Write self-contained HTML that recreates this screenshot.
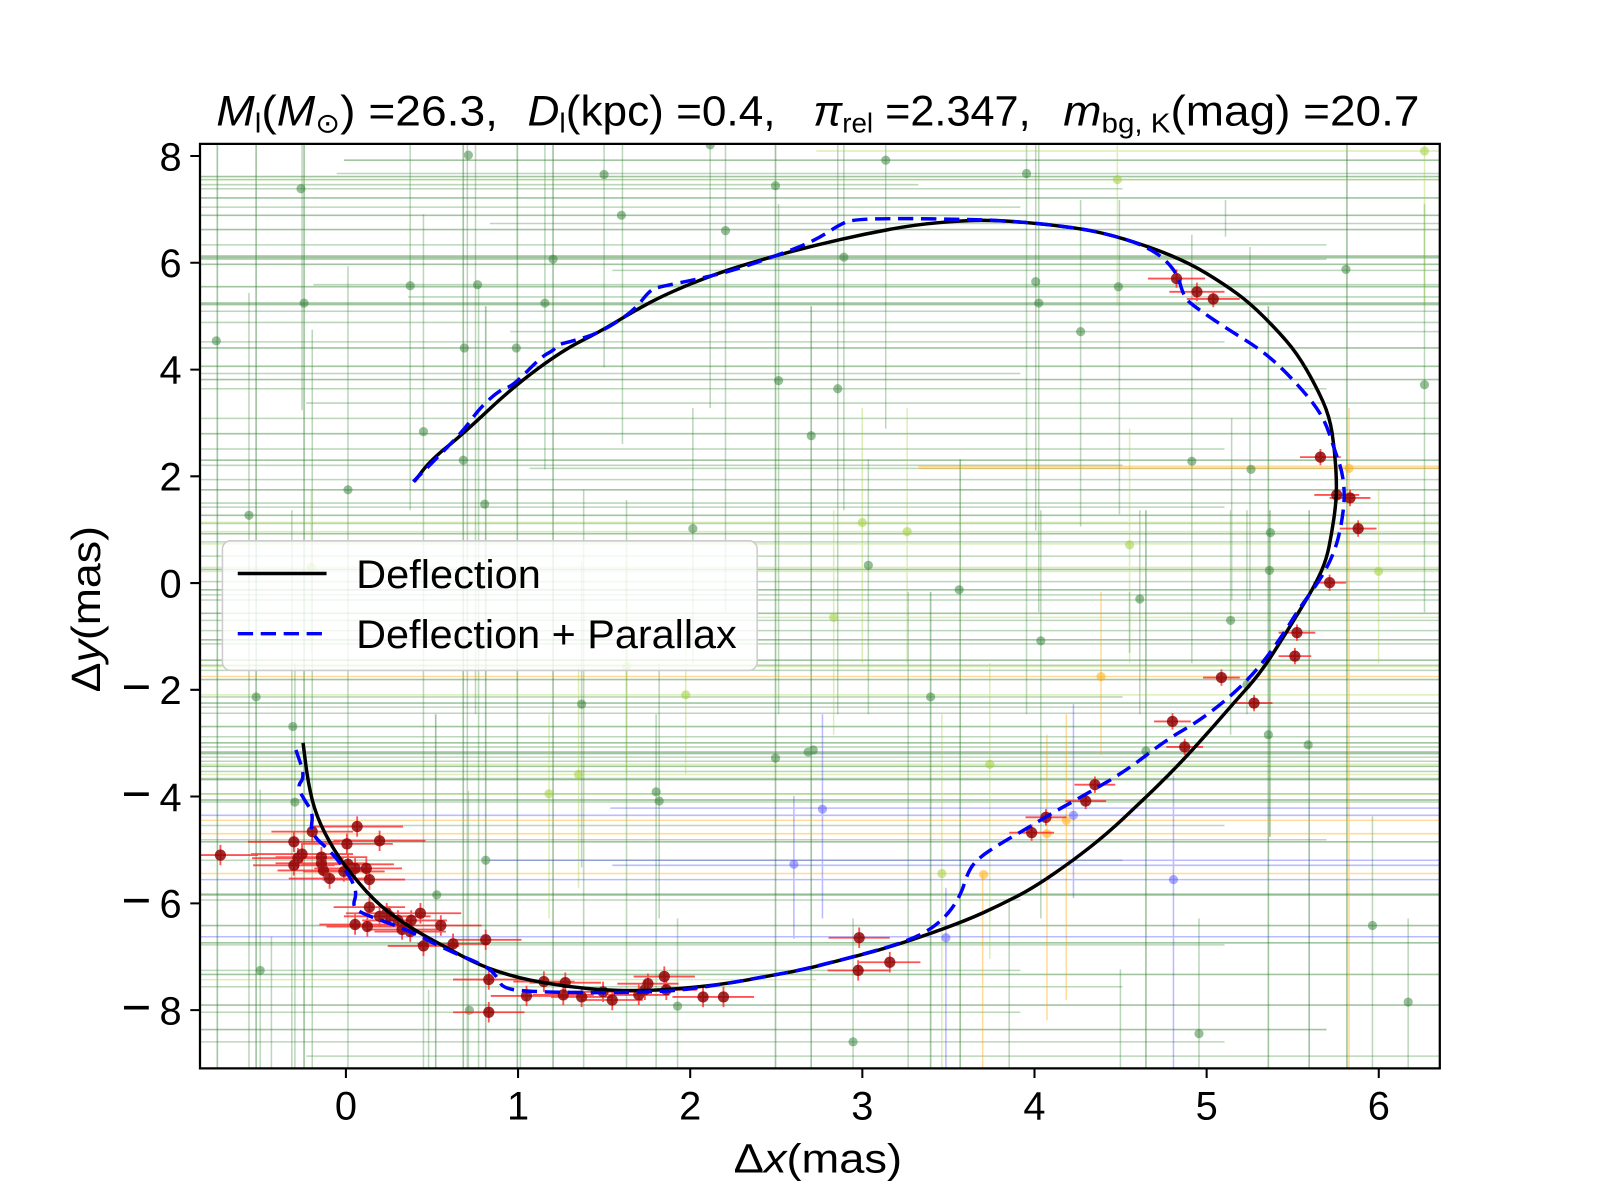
<!DOCTYPE html>
<html><head><meta charset="utf-8"><style>
html,body{margin:0;padding:0;background:#fff;}
svg{display:block;}
text{font-family:"Liberation Sans","DejaVu Sans",sans-serif;fill:#000;}
</style></head><body>
<svg width="1600" height="1200" viewBox="0 0 1568 1176" xmlns="http://www.w3.org/2000/svg">
<defs><clipPath id="c"><rect x="196" y="141" width="1215" height="906"/></clipPath></defs>
<rect x="0" y="0" width="1568" height="1176" fill="#fff"/>
<g clip-path="url(#c)" fill="none">
<!-- green horizontal A -->
<path stroke="#2f7f2f" stroke-opacity=".45" stroke-width="1.6" d="M337 157H1411M196 173H1411M196 194H1411M196 211H1411M196 225H1411M196 251H1411M196 252.5H1411M196 259H1411M196 281H1411M196 297H1411M196 298.5H1411M196 341H1411M196 359H1411M196 372H1411M196 425H1411M196 451H1411M196 480H1411M196 505H1411M196 523H1411M196 558H1411M196 578H1411M196 601H1411M196 627H1411M196 647H1411M196 666H1411M196 689H1411M196 712H1411M196 728H1411M196 737H1411M196 738.5H1411M196 751H1411M196 764H1411M196 784H1411M196 825H1411M196 877H1411M196 907H1411M196 924H1411M196 955H1411M196 985H1411M196 1009H1300"/>
<!-- green horizontal B -->
<path stroke="#2f7f2f" stroke-opacity=".32" stroke-width="1.5" d="M330 170H1411M196 176H1411M196 181H900M196 185H1100M196 203H1000M480 219H1411M196 240H1300M196 254H1300M600 265H1411M307 279H1411M400 291H1411M196 305H1411M196 316H1411M500 325H1411M196 335H1200M196 366H1000M196 381H1300M300 395H1411M196 410H1411M196 440H1200M196 456H1100M519 459H1411M196 470H1411M196 493H1411M196 497H1200M196 513H1411M196 531H1411M196 545H1411M196 570H1411M196 583H1411M196 588H1411M196 608H1411M196 618H1411M196 631H1411M196 652H1411M196 657H1411M196 683H1100M196 693H1411M196 699H1411M196 722H1411M196 732H1411M196 742H1411M196 746H1411M196 756H1411M196 763H1411M196 778H1411M196 786H1411M196 809H1200M196 823H1300M196 843H1100M196 876H1411M196 882H1000M196 926H1200M196 951H1000M196 967H1100M196 992H1000M196 1021H1200M300 1035H1411"/>
<!-- green vertical A -->
<path stroke="#2f7f2f" stroke-opacity=".45" stroke-width="1.6" d="M213 141V1047M251 141V1047M298 141V1047M454 141V1047M507 141V1047M542 141V1047M760 141V1047M795 300V1047M912 580V1047M941 450V1047M1123 500V1047M1243 300V1047M1244.5 500V820M1283 500V1047M1320 141V1047M427 700V1047M476 300V1047"/>
<!-- green vertical B -->
<path stroke="#2f7f2f" stroke-opacity=".32" stroke-width="1.5" d="M244 287V1047M286 500V1047M296 141V402M306 323V1047M341 261V1047M402 141V500M415 210V1047M458 141V1047M466 141V700M469 280V1047M534 141V460M572 480V1047M592 141V360M610 141V435M614 490V1047M255 774V916M266 918V1047M289 650V1047M459 775V1047M510 985V1047M420 970V1047M890 580V1047M989 880V1047M1020 500V900M1098 950V1047M1107 580V640M1117 500V700M1168 230V650M1175 900V1047M1206 500V720M1222 500V700M1059 196V516M1097 196V504M1201 196V232M1207 410V588M1225 242V588M696 141V400M711 141V600M763 200V700M821 141V700M827 141V500M836 900V1047M868 141V420M1006 141V700M1015 141V520M1018 141V600M851 450V700M679 400V650M643 700V1047M646 650V900M570 550V850M664 900V1047M1345 800V1047M1380 900V1047M1396 200V600M255 850V1047"/>
<!-- yellowgreen -->
<path stroke="#9acd32" stroke-opacity=".35" stroke-width="1.5" d="M196 176H1411M800 148H1411M196 560H1411M196 533H1411M196 521H1411M196 512H1411M500 605H1411M196 681H1411M196 653H1411M196 778H1411M196 759H1411M196 556H1411M196 749H1411M196 960H800M923 700V1047M970 650V940M1095 141V300M1396 141V300M1351 480V650M1107 420V650M889 400V650M845 400V650M817 500V720M672 600V760M614 550V760M538 700V900M567 650V870M305 480V640"/>
<!-- orange -->
<path stroke="#ffa500" stroke-opacity=".4" stroke-width="1.5" d="M196 663H1411M196 804H1411M196 817H1411M196 856H1411M900 459H1411M900 457H1411M963 855V1047M1026 720V1000M1045 700V980M1079 580V740M1322 400V1047"/>
<!-- blue -->
<path stroke="#3030ff" stroke-opacity=".33" stroke-width="1.5" d="M598 792H1411M196 799H1411M480 843H1411M600 848H1411M196 862H1411M196 918H1411M806 700V900M778 780V920M927 870V1047M1052 690V880M1150 760V1047"/>
<!-- markers -->
<path stroke="#2e7d32" stroke-opacity=".5" stroke-width="9" stroke-linecap="round" d="M212 334h0M295 185h0M298 297h0M402 280h0M459 152h0M468 279h0M455 341h0M506 341h0M534 297h0M542 254h0M592 171h0M609 211h0M696 142h0M711 226h0M760 182h0M763 373h0M795 427h0M821 381h0M827 252h0M868 157h0M1006 170h0M1015 276h0M1018 297h0M1059 325h0M1096 281h0M1168 452h0M1226 460h0M1245 522h0M1244 559h0M1206 608h0M1243 720h0M1282 730h0M1319 264h0M1396 377h0M1345 907h0M1380 982h0M1175 1013h0M1117 587h0M1020 628h0M940 578h0M912 683h0M851 554h0M797 735h0M792 737h0M760 743h0M679 518h0M643 776h0M646 785h0M570 690h0M475 494h0M454 451h0M415 423h0M341 480h0M244 505h0M251 683h0M287 712h0M289 786h0M255 951h0M428 877h0M476 843h0M460 990h0M664 986h0M836 1021h0M1123 736h0M1222 671h0"/>
<path stroke="#9acd32" stroke-opacity=".5" stroke-width="9" stroke-linecap="round" d="M1095 176h0M1396 148h0M1351 560h0M1107 534h0M889 521h0M845 512h0M817 605h0M672 681h0M614 653h0M538 778h0M567 759h0M305 556h0M970 749h0M923 856h0"/>
<path stroke="#ffa500" stroke-opacity=".5" stroke-width="9" stroke-linecap="round" d="M1079 663h0M1045 804h0M1026 817h0M964 857h0M1322 459h0"/>
<path stroke="#3030ff" stroke-opacity=".4" stroke-width="9" stroke-linecap="round" d="M806 793h0M778 847h0M1052 799h0M1150 862h0M927 919h0"/>
<!-- red error bars -->
<path stroke="#ff1a1a" stroke-opacity=".75" stroke-width="1.8" d="M179 838H253M216 828V848M243 825H333M288 815V835M266 815H346M306 805V825M305 810H395M350 800V820M327 824H417M372 814V834M295 827H385M340 817V837M246 837H346M296 827V847M247 841H337M292 831V851M270 840H360M315 830V850M270 846H360M315 836V856M248 848H328M288 838V858M272 853H362M317 843V863M283 861H363M323 851V871M296 847H386M341 837V857M308 851H388M348 841V861M297 854H377M337 844V864M324 851H394M359 841V861M327 862H397M362 852V872M327 889H397M362 879V899M339 895H419M379 885V905M342 898H422M382 888V908M337 898H407M372 888V908M355 902H425M390 892V912M372 895H452M412 885V905M368 902H438M403 892V912M313 906H383M348 896V916M320 908H400M360 898V918M359 911H429M394 901V921M367 913H437M402 903V923M392 907H472M432 897V917M380 927H450M415 917V937M409 925H479M444 915V935M441 921H511M476 911V931M444 960H514M479 950V970M444 992H514M479 982V1002M481 976H551M516 966V986M503 962H563M533 952V972M522 975H582M552 965V985M519 963H589M554 953V973M540 977H600M570 967V987M561 972H621M591 962V982M570 980H630M600 970V990M596 975H656M626 965V985M602 970H662M632 960V980M605 964H665M635 954V974M621 957H681M651 947V967M623 970H683M653 960V980M659 977H719M689 967V987M679 977H739M709 967V987M812 919H872M842 909V929M811 951H871M841 941V961M842 943H902M872 933V953M989 816H1033M1011 808V824M1005 801H1045M1025 793V809M1044 785H1084M1064 777V793M1053 769H1093M1073 761V777M1131 707H1167M1149 699V715M1143 732H1179M1161 724V740M1179 664H1215M1197 656V672M1211 689H1247M1229 681V697M1253 643H1285M1269 635V651M1253 620H1289M1271 612V628M1287 571H1319M1303 563V579M1274 448H1314M1294 440V456M1288 485H1332M1310 477V493M1303 488H1343M1323 480V496M1313 518H1349M1331 510V526M1125 273H1181M1153 264V282M1146 286H1200M1173 277V295M1163 293H1215M1189 285V301"/>
<path stroke="#8b0000" stroke-opacity=".82" stroke-width="11" stroke-linecap="round" d="M216 838h0M288 825h0M306 815h0M350 810h0M372 824h0M340 827h0M296 837h0M292 841h0M315 840h0M315 846h0M288 848h0M317 853h0M323 861h0M341 847h0M348 851h0M337 854h0M359 851h0M362 862h0M362 889h0M379 895h0M382 898h0M372 898h0M390 902h0M412 895h0M403 902h0M348 906h0M360 908h0M394 911h0M402 913h0M432 907h0M415 927h0M444 925h0M476 921h0M479 960h0M479 992h0M516 976h0M533 962h0M552 975h0M554 963h0M570 977h0M591 972h0M600 980h0M626 975h0M632 970h0M635 964h0M651 957h0M653 970h0M689 977h0M709 977h0M842 919h0M841 951h0M872 943h0M1011 816h0M1025 801h0M1064 785h0M1073 769h0M1149 707h0M1161 732h0M1197 664h0M1229 689h0M1269 643h0M1271 620h0M1303 571h0M1294 448h0M1310 485h0M1323 488h0M1331 518h0M1153 273h0M1173 286h0M1189 293h0"/>
<!-- curves -->
<path stroke="#000" stroke-width="3.4" stroke-linejoin="round" d="M297 728 L299.5 748 Q302 768 306 784 Q310 800 318.5 816.5 Q327 833 336.5 846 Q346 859 359 873.5 Q372 888 388.5 899.5 Q405 911 421.5 920 Q438 929 454 937.5 Q470 946 486.5 951.5 Q503 957 519.5 960.5 Q536 964 552 966 Q568 968 578 969 Q588 970 604 970.5 Q620 971 636.5 970.5 Q653 970 669.5 968.5 Q686 967 702.5 965 Q719 963 734.5 960 Q750 957 767 954 Q784 951 802 946.5 Q820 942 841 936.5 Q862 931 881 925 Q900 919 923.5 910.5 Q947 902 963.5 894.5 Q980 887 996.5 878.5 Q1013 870 1032.5 856.5 Q1052 843 1068.5 830 Q1085 817 1101 802 Q1117 787 1133.5 771 Q1150 755 1166.5 737 Q1183 719 1196 704 Q1209 689 1222 674.5 Q1235 660 1246.5 642 Q1258 624 1266 611 Q1274 598 1282 584.5 Q1290 571 1295 559.5 Q1300 548 1302.5 535.5 Q1305 523 1307 509.5 Q1309 496 1309.5 485 Q1310 474 1309 457.5 Q1308 441 1305.5 424.5 Q1303 408 1296.5 393.5 Q1290 379 1280.5 362.5 Q1271 346 1261 334.5 Q1251 323 1238 310 Q1225 297 1212 287.5 Q1199 278 1182.5 268 Q1166 258 1146.5 250 Q1127 242 1102.5 234.5 Q1078 227 1053.5 223.5 Q1029 220 1004.5 218 Q980 216 963.5 216 Q947 216 922.5 218 Q898 220 873.5 224.5 Q849 229 824.5 234.5 Q800 240 775.5 246.5 Q751 253 726.5 260.5 Q702 268 677.5 278 Q653 288 637 296.5 Q621 305 604.5 315 Q588 325 570 334 Q552 343 527.5 361 Q503 379 478.5 402 Q454 425 438 438 Q422 451 414 461.5 L406 472"/>
<path stroke="#0000ff" stroke-width="3.4" stroke-dasharray="15 7.5" stroke-linejoin="round" d="M290 735 L294.5 748 Q299 761 295 766 Q291 771 295 778 Q299 785 303 791 Q307 797 305.5 807 Q304 817 315 826.5 Q326 836 334.5 847.5 Q343 859 346.5 867 Q350 875 347.5 882 Q345 889 352 893 Q359 897 379 904 Q399 911 418.5 921 Q438 931 457.5 939 Q477 947 482 952 Q487 957 490 963 Q493 969 508 970.5 Q523 972 555.5 972.5 Q588 973 620.5 972.5 Q653 972 676.5 969 Q700 966 725 961.5 Q750 957 767 954 Q784 951 823 941 Q862 931 881 924.5 Q900 918 912 910 Q924 902 932.5 890.5 Q941 879 945 866 Q949 853 954.5 846.5 Q960 840 970 833.5 Q980 827 993 819.5 Q1006 812 1021 803 Q1036 794 1050.5 786 Q1065 778 1084.5 766.5 Q1104 755 1123.5 740 Q1143 725 1159.5 715.5 Q1176 706 1192.5 693 Q1209 680 1222 666.5 Q1235 653 1246.5 637 Q1258 621 1266 608 Q1274 595 1284 581.5 Q1294 568 1300 556.5 Q1306 545 1309.5 534 Q1313 523 1315.5 506.5 Q1318 490 1317 477 Q1316 464 1312 452.5 Q1308 441 1302.5 424.5 Q1297 408 1285.5 393.5 Q1274 379 1257.5 362.5 Q1241 346 1220 333 Q1199 320 1184.5 310 Q1170 300 1165 295.5 Q1160 291 1156.5 278 Q1153 265 1140 253.5 Q1127 242 1102.5 234.5 Q1078 227 1053.5 223.5 Q1029 220 1004.5 218 Q980 216 963.5 215.5 Q947 215 914.5 214.5 Q882 214 859 214.5 Q836 215 829.5 217.5 Q823 220 811.5 227.5 Q800 235 784 241.5 Q768 248 743.5 256.5 Q719 265 702.5 269 Q686 273 666.5 277 Q647 281 642 282.5 Q637 284 629 294.5 Q621 305 604.5 315.5 Q588 326 575 330 Q562 334 554 336 Q546 338 544.5 340.5 Q543 343 536.5 346.5 Q530 350 516.5 364 Q503 378 496.5 380 Q490 382 480 391 Q470 400 462.5 410.5 Q455 421 442.5 434 Q430 447 417.5 459.5 L405 472"/>
</g>
<!-- axes frame -->
<rect x="196" y="141" width="1215" height="906" fill="none" stroke="#000" stroke-width="2.2"/>
<!-- ticks -->
<path stroke="#000" stroke-width="2" d="M339 1047V1056.5M507.7 1047V1056.5M676.4 1047V1056.5M845.1 1047V1056.5M1013.8 1047V1056.5M1182.5 1047V1056.5M1351.2 1047V1056.5M186.5 152.9H196M186.5 257.5H196M186.5 362.2H196M186.5 466.8H196M186.5 571.4H196M186.5 676H196M186.5 780.6H196M186.5 885.3H196M186.5 989.9H196"/>
<g font-size="39" text-anchor="middle">
<text x="339" y="1097">0</text><text x="507.7" y="1097">1</text><text x="676.4" y="1097">2</text><text x="845.1" y="1097">3</text><text x="1013.8" y="1097">4</text><text x="1182.5" y="1097">5</text><text x="1351.2" y="1097">6</text>
</g>
<g font-size="39" text-anchor="end">
<text x="178" y="167">8</text><text x="178" y="271.5">6</text><text x="178" y="376">4</text><text x="178" y="480.8">2</text><text x="178" y="585.4">0</text>
<text x="178" y="690"><tspan font-size="50">−</tspan><tspan dx="8">2</tspan></text>
<text x="178" y="794.6"><tspan font-size="50">−</tspan><tspan dx="8">4</tspan></text>
<text x="178" y="899.3"><tspan font-size="50">−</tspan><tspan dx="8">6</tspan></text>
<text x="178" y="1003.9"><tspan font-size="50">−</tspan><tspan dx="8">8</tspan></text>
</g>
<!-- axis labels -->
<text x="719" y="1149" font-size="40" textLength="165" lengthAdjust="spacingAndGlyphs">Δ<tspan font-style="italic">x</tspan>(mas)</text>
<text transform="translate(98,597) rotate(-90)" font-size="40" text-anchor="middle" textLength="163" lengthAdjust="spacingAndGlyphs">Δ<tspan font-style="italic">y</tspan>(mas)</text>
<!-- title -->
<g font-size="42">
<text x="212" y="123" textLength="276" lengthAdjust="spacingAndGlyphs"><tspan font-style="italic">M</tspan><tspan font-size="27" dy="7">l</tspan><tspan dy="-7">(</tspan><tspan font-style="italic">M</tspan><tspan font-size="27" dy="7">⊙</tspan><tspan dy="-7">) =26.3,</tspan></text>
<text x="517" y="123" textLength="243" lengthAdjust="spacingAndGlyphs"><tspan font-style="italic">D</tspan><tspan font-size="27" dy="7">l</tspan><tspan dy="-7">(kpc) =0.4,</tspan></text>
<text x="797" y="123" textLength="213" lengthAdjust="spacingAndGlyphs"><tspan font-style="italic">π</tspan><tspan font-size="27" dy="7">rel</tspan><tspan dy="-7"> =2.347,</tspan></text>
<text x="1042" y="123" textLength="349" lengthAdjust="spacingAndGlyphs"><tspan font-style="italic">m</tspan><tspan font-size="27" dy="7">bg, K</tspan><tspan dy="-7">(mag) =20.7</tspan></text>
</g>
<!-- legend -->
<rect x="218" y="530" width="524" height="127" rx="8" ry="8" fill="#fff" fill-opacity=".8" stroke="#cccccc" stroke-width="1.5"/>
<path d="M233 562H320" stroke="#000" stroke-width="3.4"/>
<path d="M233 621H320" stroke="#0000ff" stroke-width="3.4" stroke-dasharray="15 7.5"/>
<text x="349" y="576" font-size="39" textLength="181" lengthAdjust="spacingAndGlyphs">Deflection</text>
<text x="349" y="635" font-size="39" textLength="373" lengthAdjust="spacingAndGlyphs">Deflection + Parallax</text>
</svg>
</body></html>
